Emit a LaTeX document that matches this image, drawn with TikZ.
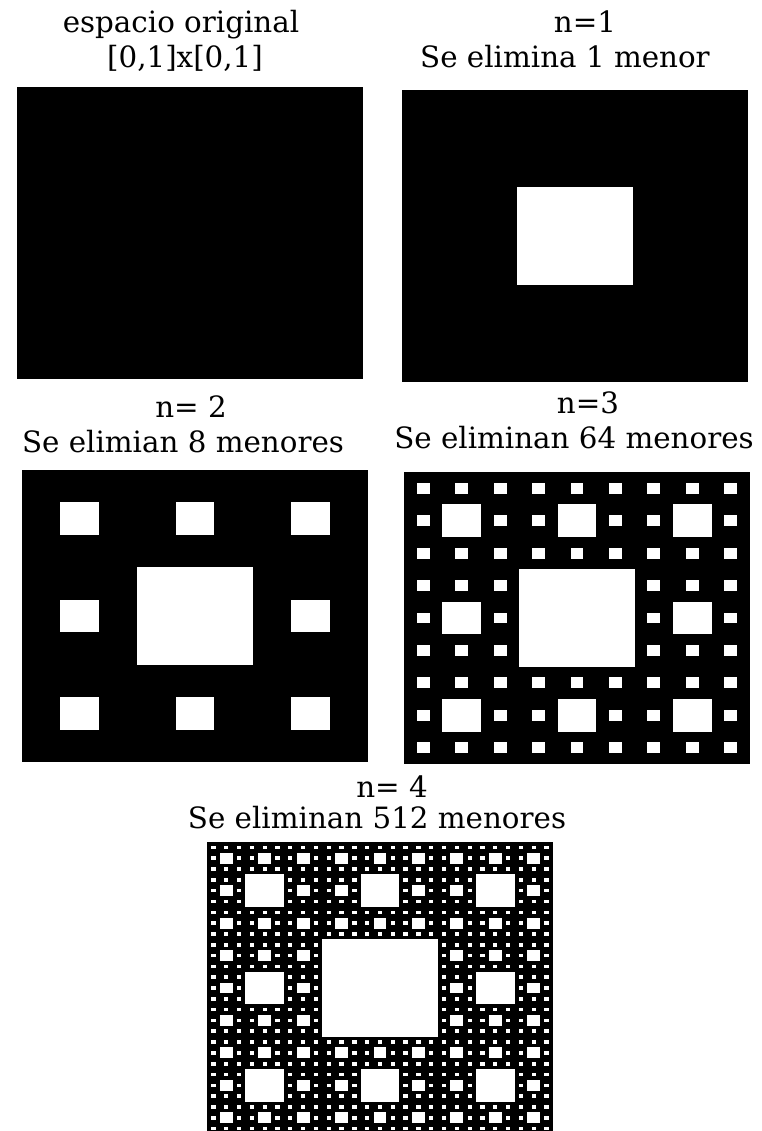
\documentclass[tikz,border=0pt]{standalone}
\usepackage{fontspec}
\setmainfont{DejaVu Serif}
% white holes of a carpet of depth #5 in the box with top left (#1,#2), size #3 x #4
\newcommand{\sierpholes}[5]{%
  \foreach \k in {1,...,#5}{
    \pgfmathtruncatemacro{\m}{3^(\k-1)-1}
    \pgfmathsetmacro{\sx}{#3/3^\k}
    \pgfmathsetmacro{\sy}{#4/3^\k}
    \foreach \a in {0,...,\m}
      \foreach \b in {0,...,\m}
        \fill[white] ({#1+(3*\a+1)*\sx},{#2+(3*\b+1)*\sy}) rectangle ++(\sx,\sy);
  }}
\begin{document}
\begin{tikzpicture}[x=0.75pt, y=-0.75pt, every node/.style={font=\fontsize{22}{26}\selectfont},
  panel/.style={fill=black,anchor=north west,inner sep=0pt,minimum width=259.5pt,minimum height=219pt},
  title/.style={anchor=base,inner sep=0pt}]
\useasboundingbox (0,0) rectangle (762,1131);
% titles
\node[title] (t0a) at (181,33) {espacio original};
\node[title] (t0b) at (185,68) {[0,1]x[0,1]};
\node[title] (t1a) at (585,33) {n=1};
\node[title] (t1b) at (565,68) {Se elimina 1 menor};
\node[title] (t2a) at (191,417) {n= 2};
\node[title] (t2b) at (183,452) {Se elimian 8 menores};
\node[title] (t3a) at (588,413) {n=3};
\node[title] (t3b) at (574,448) {Se eliminan 64 menores};
\node[title] (t4a) at (392,797) {n= 4};
\node[title] (t4b) at (377,828) {Se eliminan 512 menores};
% carpets
\node[panel] (p0) at (17,87) {};
\foreach \i/\x/\y in {1/402/90,2/22/470,3/404/472,4/207/842}{
  \node[panel] (p\i) at (\x,\y) {};
  \sierpholes{\x}{\y}{346}{292}{\i}
}
\end{tikzpicture}
\end{document}
